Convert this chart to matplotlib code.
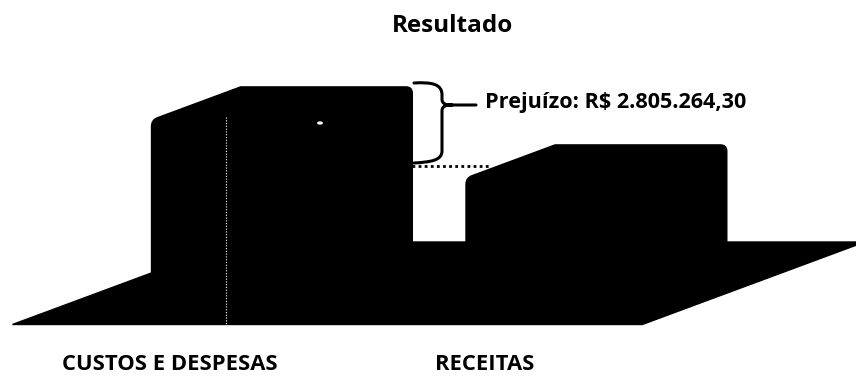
import matplotlib.pyplot as plt
from matplotlib.patches import Polygon, PathPatch, Circle
from matplotlib.path import Path

plt.rcParams['font.family'] = ['Open Sans', 'DejaVu Sans']

categorias = ['CUSTOS E DESPESAS', 'RECEITAS']
valores = [7495264.30, 4690000.00]  # R$ (estimados)
prejuizo = valores[0] - valores[1]

W, H = 856, 376
fig = plt.figure(figsize=(W / 100, H / 100), dpi=100)
ax = fig.add_axes([0, 0, 1, 1])
ax.set_xlim(-0.755, 1.967)
ax.set_ylim(-4.885e6, 13.30e6)
ax.axis('off')

meia_larg = 0.2727          # meia largura da face frontal
dx, dy = 0.283, 1.596e6     # vetor de profundidade (3D falso)
piso_esq, piso_dir = -0.291, 1.712
rx, ry = 0.02, 0.30e6       # arredondamento dos cantos
f = 0.065


def px(x, y):
    # pixel (origem no topo) -> fracao dos eixos
    return x / W, 1 - y / H


# piso
piso = [(piso_esq - 1.5 * dx, -1.5 * dy), (piso_dir - 1.5 * dx, -1.5 * dy),
        (piso_dir + dx, dy), (piso_esq + dx, dy)]
ax.add_patch(Polygon(piso, closed=True, fc='black', ec='black', lw=1))

# barras
for i, v in enumerate(valores):
    x0, x1 = i - meia_larg, i + meia_larg
    verts = [(x0, 0), (x0, v - ry),
             (x0, v), (x0 + f * dx, v + f * dy),
             (x0 + dx, v + dy), (x1 + dx - rx, v + dy),
             (x1 + dx, v + dy), (x1 + dx, v + dy - ry),
             (x1 + dx, dy), (x1, 0), (x0, 0)]
    codes = [Path.MOVETO, Path.LINETO,
             Path.CURVE3, Path.CURVE3,
             Path.LINETO, Path.LINETO,
             Path.CURVE3, Path.CURVE3,
             Path.LINETO, Path.LINETO, Path.CLOSEPOLY]
    ax.add_patch(PathPatch(Path(verts, codes), fc='black', ec='black',
                           lw=1.2, joinstyle='round'))

# marcas brancas na barra esquerda
ax.plot(*zip(px(226, 117), px(226, 327)), transform=ax.transAxes,
        color='white', lw=0.8, ls=(0, (1, 1.5)))
ax.add_patch(Circle(px(320, 123), 2.2 / W, transform=ax.transAxes,
                    color='white'))

# chave
verts = [px(414, 83), px(432, 82), px(442, 84), px(442, 95),
         px(442, 99),
         px(442, 104), px(446, 105), px(452, 105),
         px(476, 105),
         px(452, 105), px(446, 105), px(442, 106), px(442, 111),
         px(442, 151),
         px(442, 160), px(432, 162), px(414, 163)]
codes = [Path.MOVETO, Path.CURVE4, Path.CURVE4, Path.CURVE4,
         Path.LINETO,
         Path.CURVE4, Path.CURVE4, Path.CURVE4,
         Path.LINETO,
         Path.MOVETO, Path.CURVE4, Path.CURVE4, Path.CURVE4,
         Path.LINETO,
         Path.CURVE4, Path.CURVE4, Path.CURVE4]
ax.add_patch(PathPatch(Path(verts, codes), transform=ax.transAxes,
                       fc='none', ec='black', lw=2.2, capstyle='round'))

# linha pontilhada
ax.plot(*zip(px(412, 166), px(490, 166)), transform=ax.transAxes,
        color='black', lw=2, ls=(0, (1, 1.2)))

txt = f'{prejuizo:,.2f}'.replace(',', 'X').replace('.', ',').replace('X', '.')
ax.text(*px(485, 108), f'Prejuízo: R$ {txt}', transform=ax.transAxes,
        fontsize=15.6, fontweight='bold', va='baseline', ha='left')

fig.text(*px(452, 32), 'Resultado', fontsize=17.5, fontweight='bold',
         ha='center', va='baseline')

for i, nome in enumerate(categorias):
    ax.text(i - 0.2146, 1 - 370 / H, nome, transform=ax.get_xaxis_transform(),
            fontsize=15.8, fontweight='bold', ha='center', va='baseline')

fig.savefig('out.png', dpi=100, facecolor='white')
